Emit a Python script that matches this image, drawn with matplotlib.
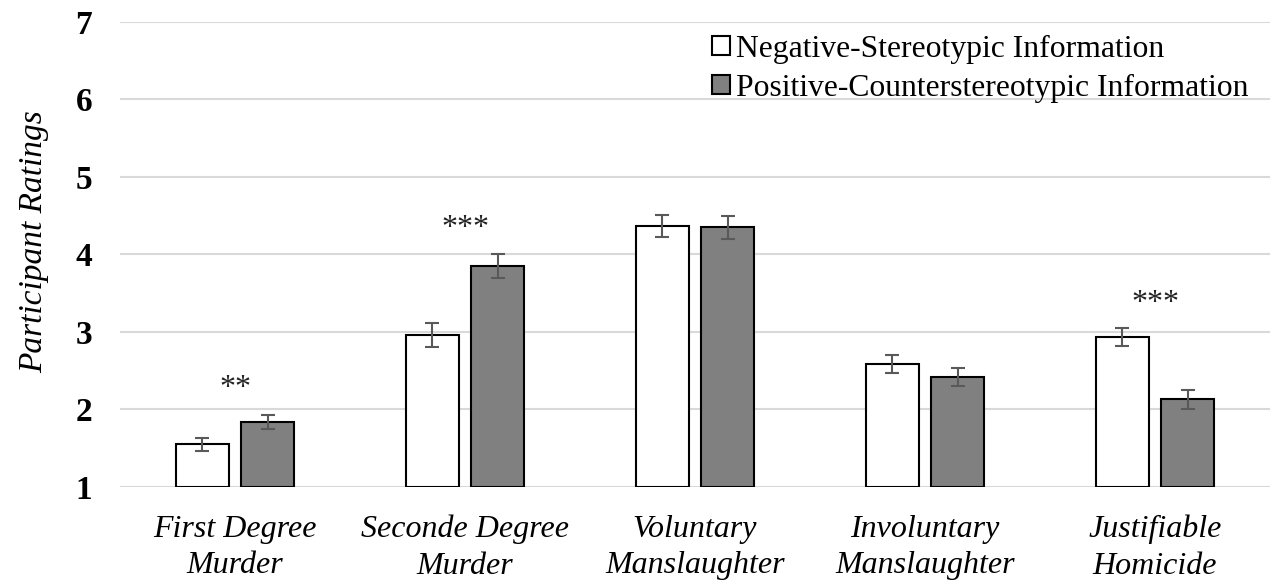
import matplotlib
matplotlib.use("Agg")
import matplotlib.pyplot as plt
import numpy as np

plt.rcParams['font.family'] = ['Liberation Serif', 'DejaVu Serif']

categories = ["First Degree\nMurder", "Seconde Degree\nMurder", "Voluntary\nManslaughter",
              "Involuntary\nManslaughter", "Justifiable\nHomicide"]
negative = [1.55, 2.96, 4.37, 2.59, 2.94]
negative_err = [0.085, 0.15, 0.14, 0.115, 0.115]
positive = [1.84, 3.85, 4.35, 2.42, 2.13]
positive_err = [0.09, 0.155, 0.145, 0.12, 0.12]
stars = ["**", "***", "", "", "***"]
star_y = [2.27, 4.34, 0, 0, 3.37]

fig = plt.figure(figsize=(12.7, 5.83), dpi=100)
ax = fig.add_axes([0.0945, 0.1647, 0.9055, 0.7976])

x = np.arange(len(categories))
w = 0.23
off = 0.143
err_kw = dict(ecolor='#595959', elinewidth=1.5, capsize=5, capthick=1.5)
ax.bar(x - off, np.array(negative) - 1, w, bottom=1, color='white', edgecolor='black',
       linewidth=1.5, yerr=negative_err, error_kw=err_kw, zorder=3,
       label='Negative-Stereotypic Information')
ax.bar(x + off, np.array(positive) - 1, w, bottom=1, color='#808080', edgecolor='black',
       linewidth=1.5, yerr=positive_err, error_kw=err_kw, zorder=3,
       label='Positive-Counterstereotypic Information')

for i, s in enumerate(stars):
    if s:
        ax.text(x[i], star_y[i], s, ha='center', va='center', fontsize=23, color='#222222')

ax.set_ylim(1, 7)
ax.set_xlim(-0.5, len(categories) - 0.5)
ax.set_yticks(range(1, 8))
ax.set_yticklabels([str(v) for v in range(1, 8)], fontsize=24, fontweight='bold')
ax.set_xticks(x)
ax.set_xticklabels(categories, fontsize=23, fontstyle='italic', linespacing=1.33)
ax.tick_params(axis='y', length=0, pad=20)
ax.tick_params(axis='x', length=0, pad=20)
ax.grid(axis='y', color='#d9d9d9', linewidth=1.5, zorder=0)
ax.set_axisbelow(True)
for sp in ax.spines.values():
    sp.set_visible(False)

ax.set_ylabel('Participant Ratings', fontsize=24, fontstyle='italic')
ax.yaxis.set_label_coords(-0.062, 0.527)

ax.legend(loc='upper right', bbox_to_anchor=(0.992, 1.0), frameon=False, fontsize=22.8,
          handlelength=0.58, handleheight=0.58, handletextpad=0.18, labelspacing=0.32,
          borderaxespad=0.0)

fig.savefig('out.png', dpi=100)
